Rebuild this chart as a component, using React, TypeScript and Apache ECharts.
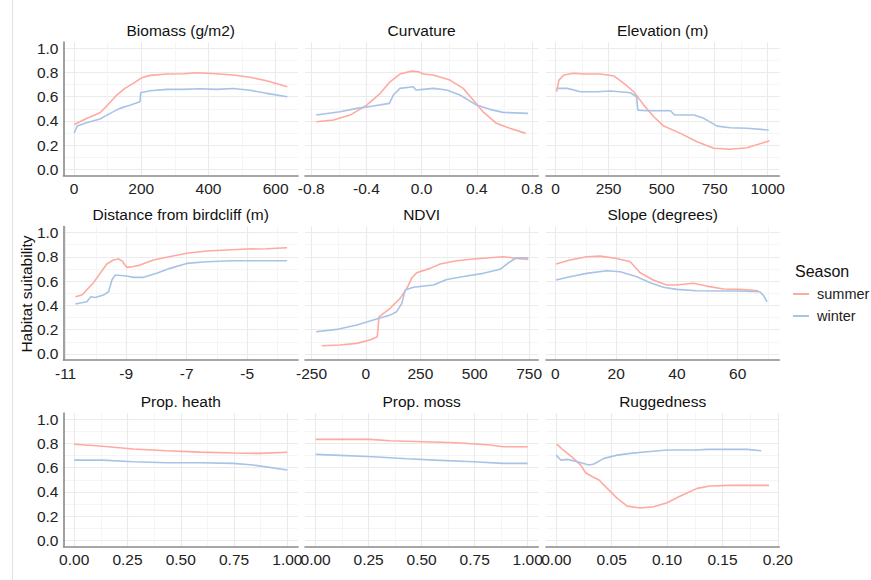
import React, { useEffect, useRef } from 'react';
import * as echarts from 'echarts';

// ---------- data ----------
const seasons = ['summer', 'winter'];
const panelTitles = [
  'Biomass (g/m2)', 'Curvature', 'Elevation (m)',
  'Distance from birdcliff (m)', 'NDVI', 'Slope (degrees)',
  'Prop. heath', 'Prop. moss', 'Ruggedness',
];

const biomassSummer = [[0,0.37],[37,0.42],[77,0.467],[97,0.522],[127,0.613],[151,0.668],[176,0.709],[201,0.755],[226,0.775],[276,0.786],[325,0.789],[365,0.797],[424,0.789],[474,0.778],[524,0.759],[573,0.731],[635,0.681]];
const biomassWinter = [[0,0.30],[9,0.357],[37,0.385],[77,0.415],[107,0.462],[136,0.503],[166,0.528],[196,0.558],[198,0.632],[226,0.648],[276,0.66],[325,0.66],[375,0.665],[424,0.66],[474,0.667],[524,0.652],[573,0.627],[635,0.599]];

const curvatureSummer = [[-0.764,0.393],[-0.639,0.407],[-0.518,0.448],[-0.398,0.53],[-0.30,0.627],[-0.229,0.722],[-0.157,0.786],[-0.072,0.81],[-0.024,0.805],[0.012,0.786],[0.084,0.778],[0.205,0.736],[0.301,0.668],[0.373,0.572],[0.445,0.475],[0.542,0.38],[0.638,0.339],[0.754,0.297]];
const curvatureWinter = [[-0.764,0.448],[-0.591,0.475],[-0.47,0.503],[-0.35,0.522],[-0.234,0.544],[-0.205,0.613],[-0.157,0.668],[-0.061,0.681],[-0.041,0.654],[0.012,0.66],[0.084,0.668],[0.181,0.654],[0.277,0.613],[0.398,0.53],[0.494,0.495],[0.59,0.47],[0.771,0.462]];

const elevationSummer = [[5,0.64],[16,0.736],[39,0.778],[86,0.792],[133,0.786],[212,0.786],[275,0.77],[322,0.709],[369,0.64],[416,0.53],[463,0.434],[510,0.357],[589,0.297],[667,0.228],[746,0.174],[824,0.166],[903,0.179],[1009,0.236]];
const elevationWinter = [[5,0.668],[55,0.668],[118,0.64],[196,0.64],[259,0.646],[353,0.632],[382,0.599],[388,0.489],[432,0.484],[542,0.484],[561,0.448],[652,0.448],[699,0.421],[762,0.357],[824,0.344],[903,0.339],[1005,0.325]];

const distanceSummer = [[-10.68,0.471],[-10.46,0.485],[-10.08,0.587],[-9.86,0.664],[-9.64,0.741],[-9.42,0.774],[-9.25,0.782],[-9.14,0.768],[-8.98,0.713],[-8.76,0.72],[-8.54,0.732],[-8.1,0.774],[-7.66,0.796],[-7.0,0.829],[-6.34,0.848],[-5.68,0.856],[-5.02,0.864],[-4.36,0.867],[-3.68,0.875]];
const distanceWinter = [[-10.68,0.411],[-10.3,0.43],[-10.17,0.471],[-10.02,0.465],[-9.75,0.485],[-9.58,0.512],[-9.47,0.609],[-9.36,0.65],[-8.98,0.642],[-8.76,0.631],[-8.43,0.631],[-7.99,0.664],[-7.55,0.705],[-7.0,0.746],[-6.34,0.76],[-5.46,0.768],[-3.68,0.768]];

const ndviSummer = [[-203,0.068],[-119,0.073],[-42,0.087],[19,0.115],[52,0.142],[60,0.306],[111,0.376],[157,0.458],[188,0.54],[210,0.623],[233,0.669],[295,0.705],[341,0.741],[417,0.768],[494,0.782],[570,0.792],[631,0.801],[693,0.787],[746,0.779]];
const ndviWinter = [[-229,0.183],[-134,0.202],[-42,0.238],[34,0.279],[111,0.32],[141,0.348],[165,0.417],[180,0.526],[218,0.549],[310,0.568],[371,0.614],[463,0.642],[540,0.664],[616,0.697],[662,0.76],[693,0.792],[746,0.792]];

const slopeSummer = [[0.2,0.741],[4.8,0.774],[10.3,0.801],[14.7,0.806],[20.2,0.787],[24.6,0.76],[27.9,0.669],[32.2,0.609],[36.6,0.568],[39.9,0.568],[45.4,0.582],[49.8,0.559],[55.3,0.535],[60.8,0.532],[66.8,0.521]];
const slopeWinter = [[0.2,0.609],[4.8,0.636],[10.3,0.664],[16.9,0.685],[21.3,0.677],[26.8,0.636],[31.2,0.587],[35.5,0.549],[39.9,0.532],[46.5,0.521],[53.1,0.518],[59.7,0.518],[67.3,0.512],[68.4,0.485],[69.7,0.43]];

const heathSummer = [[0,0.792],[0.121,0.778],[0.277,0.753],[0.434,0.739],[0.59,0.728],[0.746,0.72],[0.871,0.717],[1.0,0.726]];
const heathWinter = [[0,0.662],[0.133,0.662],[0.277,0.648],[0.434,0.64],[0.59,0.64],[0.746,0.635],[0.84,0.621],[1.0,0.58]];

const mossSummer = [[0,0.833],[0.256,0.833],[0.35,0.821],[0.508,0.813],[0.665,0.805],[0.822,0.786],[0.885,0.772],[1.0,0.772]];
const mossWinter = [[0,0.709],[0.115,0.701],[0.272,0.69],[0.43,0.673],[0.587,0.66],[0.744,0.648],[0.885,0.635],[1.0,0.635]];

const ruggedSummer = [[0.0004,0.794],[0.007,0.739],[0.0145,0.684],[0.022,0.621],[0.0265,0.558],[0.0326,0.525],[0.0385,0.498],[0.046,0.429],[0.055,0.347],[0.064,0.283],[0.076,0.267],[0.088,0.278],[0.1,0.311],[0.112,0.366],[0.127,0.429],[0.139,0.448],[0.157,0.454],[0.192,0.454]];
const ruggedWinter = [[0,0.703],[0.004,0.662],[0.01,0.668],[0.019,0.648],[0.0295,0.621],[0.034,0.63],[0.043,0.676],[0.055,0.703],[0.067,0.717],[0.082,0.731],[0.1,0.745],[0.127,0.745],[0.136,0.75],[0.172,0.75],[0.185,0.739]];

const panelSeries = [
  [biomassSummer, biomassWinter], [curvatureSummer, curvatureWinter], [elevationSummer, elevationWinter],
  [distanceSummer, distanceWinter], [ndviSummer, ndviWinter], [slopeSummer, slopeWinter],
  [heathSummer, heathWinter], [mossSummer, mossWinter], [ruggedSummer, ruggedWinter],
];

// x tick labels (major) and minor grid breaks
const xMajorTicks = [
  [0, 200, 400, 600], [-0.8, -0.4, 0, 0.4, 0.8], [0, 250, 500, 750, 1000],
  [-11, -9, -7, -5], [-250, 0, 250, 500, 750], [0, 20, 40, 60],
  [0, 0.25, 0.5, 0.75, 1], [0, 0.25, 0.5, 0.75, 1], [0, 0.05, 0.1, 0.15, 0.2],
];
const xMinorTicks = [
  [100, 300, 500], [-0.6, -0.2, 0.2, 0.6], [125, 375, 625, 875],
  [-10, -8, -6, -4], [-125, 125, 375, 625], [10, 30, 50, 70],
  [0.125, 0.375, 0.625, 0.875], [0.125, 0.375, 0.625, 0.875], [0.025, 0.075, 0.125, 0.175],
];
const xDecimals = [0, 1, 0, 0, 0, 0, 2, 2, 2];
const xLimits = [
  [-31.75, 666.75], [-0.845, 0.845], [-45, 1055],
  [-11.07, -3.32], [-280, 792], [-3.1, 73.7],
  [-0.05, 1.05], [-0.05, 1.05], [-0.0093, 0.2013],
];
const yMajorTicks = [0, 0.2, 0.4, 0.6, 0.8, 1.0];
const yMinorTicks = [0.1, 0.3, 0.5, 0.7, 0.9];
const yLimits = [-0.05, 1.05];

// ---------- layout / style ----------
const FONT = '"Liberation Sans", Arial, sans-serif';
const FS = 15.5;
const seasonColors = ['#FFA9A1', '#A8C3E6'];
const cols = [
  { left: 63.5, width: 234.5 },
  { left: 305, width: 233.3 },
  { left: 546, width: 233.3 },
];
const rows = [
  { top: 42, height: 133.5 },
  { top: 226.5, height: 133.5 },
  { top: 413, height: 133.5 },
];
const majorGrid = { color: '#ebebeb', width: 1.1 };
const minorGrid = { color: '#f2f2f2', width: 0.8 };
const axisLineStyle = { color: '#8a8a8a', width: 1.6 };

function buildOption() {
  const grid: any[] = [];
  const xAxis: any[] = [];
  const yAxis: any[] = [];
  const series: any[] = [];
  const graphic: any[] = [];

  for (let i = 0; i < 9; i++) {
    const r = Math.floor(i / 3);
    const c = i % 3;
    grid.push({ left: cols[c].left, width: cols[c].width, top: rows[r].top, height: rows[r].height, containLabel: false });
    const dec = xDecimals[i];
    xAxis.push({
      type: 'value', gridIndex: i, min: xLimits[i][0], max: xLimits[i][1], position: 'bottom',
      axisLine: { show: true, onZero: false, lineStyle: axisLineStyle },
      axisTick: { show: false, customValues: xMajorTicks[i] },
      axisLabel: {
        show: true, customValues: xMajorTicks[i], margin: 5,
        formatter: (v: number) => Number(v).toFixed(dec),
        color: '#222', fontSize: FS, fontFamily: FONT,
        showMinLabel: true, showMaxLabel: true,
      },
      splitLine: { show: true, lineStyle: majorGrid },
    });
    xAxis.push({
      type: 'value', gridIndex: i, min: xLimits[i][0], max: xLimits[i][1], position: 'top',
      axisLine: { show: false }, axisLabel: { show: false },
      axisTick: { show: false, customValues: xMinorTicks[i] },
      splitLine: { show: true, lineStyle: minorGrid },
    });
    yAxis.push({
      type: 'value', gridIndex: i, min: yLimits[0], max: yLimits[1], position: 'left',
      axisLine: { show: c === 0, onZero: false, lineStyle: axisLineStyle },
      axisTick: { show: false, customValues: yMajorTicks },
      axisLabel: {
        show: c === 0, customValues: yMajorTicks, margin: 5,
        formatter: (v: number) => Number(v).toFixed(1),
        color: '#222', fontSize: FS, fontFamily: FONT,
      },
      splitLine: { show: true, lineStyle: majorGrid },
    });
    yAxis.push({
      type: 'value', gridIndex: i, min: yLimits[0], max: yLimits[1], position: 'right',
      axisLine: { show: false }, axisLabel: { show: false },
      axisTick: { show: false, customValues: yMinorTicks },
      splitLine: { show: true, lineStyle: minorGrid },
    });
    panelSeries[i].forEach((d, s) => {
      series.push({
        type: 'line', name: seasons[s], xAxisIndex: 2 * i, yAxisIndex: 2 * i,
        data: d, showSymbol: false, symbol: 'none', color: seasonColors[s],
        lineStyle: { color: seasonColors[s], width: 1.6 }, z: 3,
      });
    });
    graphic.push({
      type: 'text', x: cols[c].left + cols[c].width / 2, y: rows[r].top - 12,
      style: { text: panelTitles[i], fill: '#111', fontSize: FS, fontFamily: FONT, align: 'center', verticalAlign: 'middle' },
    });
  }

  graphic.push({
    type: 'text', x: 26.7, y: 294, rotation: Math.PI / 2,
    style: { text: 'Habitat suitability', fill: '#111', fontSize: FS, fontFamily: FONT, align: 'center', verticalAlign: 'middle' },
  });
  graphic.push({
    type: 'text', x: 795, y: 271.7,
    style: { text: 'Season', fill: '#111', fontSize: FS + 0.5, fontFamily: FONT, align: 'left', verticalAlign: 'middle' },
  });
  graphic.push({
    type: 'line', shape: { x1: 12.5, y1: 0, x2: 12.5, y2: 580 },
    style: { stroke: '#e2e2e2', lineWidth: 1 },
  });

  return {
    animation: false,
    backgroundColor: '#ffffff',
    textStyle: { fontFamily: FONT },
    grid, xAxis, yAxis, series, graphic,
    legend: {
      data: seasons, orient: 'vertical', left: 793, top: 284.5, padding: 0,
      icon: 'rect', itemWidth: 16, itemHeight: 2, itemGap: 3,
      textStyle: { fontSize: 14.5, color: '#222', fontFamily: FONT, lineHeight: 19, padding: [0, 0, 0, 3] },
    },
  };
}

export default function App() {
  const ref = useRef<HTMLDivElement>(null);
  useEffect(() => {
    if (!ref.current) return;
    const chart = echarts.init(ref.current, undefined, { renderer: 'svg' });
    chart.setOption(buildOption() as any);
    return () => chart.dispose();
  }, []);
  return (
    <div
      ref={ref}
      style={{ position: 'absolute', left: 0, top: 0, width: 871, height: 580, background: '#fff' }}
    />
  );
}
